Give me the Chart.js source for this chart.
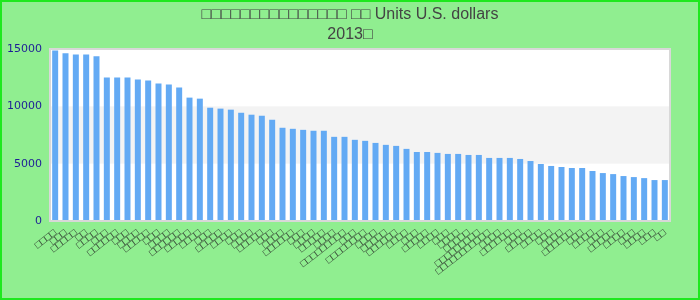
<html>
<head>
<title>2013 Units U.S. dollars</title>
<script src="https://cdn.jsdelivr.net/npm/chart.js"></script>
<style>
  body { margin: 0; padding: 0; }
  .frame {
    width: 700px;
    height: 300px;
    box-sizing: border-box;
    border: 2px solid #1ee81e;
    background-color: #90ee90;
  }
</style>
</head>
<body>
<div class="frame">
  <canvas id="chart" width="696" height="296"></canvas>
</div>
<script>
// chart data
const titleLines = ['□□□□□□□□□□□□□□□ □□ Units U.S. dollars', '2013□'];

const categories = [
  '□□□□', '□□□', '□□□□□', '□□', '□□□□', '□□□', '□□□□□□', '□□□', '□□□□', '□□□□□',
  '□□□', '□□□□', '□□□□□□', '□□□□□', '□□□□', '□□□', '□□□□□', '□□□□', '□□□', '□□□□',
  '□□□□□', '□□□', '□□□□', '□□□□□□', '□□□', '□□□□', '□□□□□', '□□□□', '□□□□□□□□□', '□□□',
  '□□□□□□□□', '□□□□', '□□□□□', '□□□□□□', '□□□□', '□□□', '□□□□□', '□□□□', '□□□', '□□□□',
  '□□□□□', '□□□□□□□□□', '□□□□□□□□□□□', '□□□□', '□□□□□□', '□□□', '□□□□□', '□□□□', '□□□', '□□□□',
  '□□□□□□', '□□□', '□□□□', '□□□', '□□□□□', '□□□□', '□□□', '□□□□', '□□□', '□□'
];

const values = [
  14880, 14620, 14530, 14530, 14360, 12520, 12520, 12520, 12340, 12250,
  11990, 11900, 11640, 10760, 10670, 9880, 9800, 9710, 9440, 9270,
  9180, 8830, 8130, 8040, 7950, 7870, 7870, 7340, 7340, 7080,
  6990, 6810, 6640, 6550, 6290, 6020, 6020, 5940, 5850, 5850,
  5760, 5760, 5500, 5500, 5500, 5410, 5230, 4970, 4800, 4710,
  4620, 4620, 4360, 4180, 4090, 3920, 3830, 3740, 3570, 3570
];

const yTicks = [0, 5000, 10000, 15000];
const bandRange = [5000, 10000];

// plot background, grey band and frame
const plotBackground = {
  id: 'plotBackground',
  beforeDatasetsDraw(chart) {
    const { ctx, chartArea: a, scales: { y } } = chart;
    ctx.save();
    ctx.fillStyle = '#ffffff';
    ctx.fillRect(a.left, a.top, a.right - a.left, a.bottom - a.top);
    const b1 = y.getPixelForValue(bandRange[1]);
    const b0 = y.getPixelForValue(bandRange[0]);
    ctx.fillStyle = '#f3f3f3';
    ctx.fillRect(a.left, b1, a.right - a.left, b0 - b1);
    ctx.restore();
  },
  afterDatasetsDraw(chart) {
    const { ctx, chartArea: a } = chart;
    ctx.save();
    ctx.strokeStyle = '#d8d8d8';
    ctx.lineWidth = 2;
    ctx.strokeRect(a.left, a.top, a.right - a.left, a.bottom - a.top);
    ctx.restore();
  }
};

const ctx = document.getElementById('chart').getContext('2d');
new Chart(ctx, {
  type: 'bar',
  data: {
    labels: categories,
    datasets: [{
      data: values,
      backgroundColor: '#63aaf4',
      barPercentage: 0.58,
      categoryPercentage: 1.0
    }]
  },
  options: {
    responsive: false,
    animation: false,
    layout: { padding: 0 },
    plugins: {
      legend: { display: false },
      tooltip: { enabled: false },
      title: {
        display: true,
        text: titleLines,
        color: '#444444',
        font: { family: 'Liberation Sans, Arial, sans-serif', size: 16, weight: 'normal', lineHeight: 1.25 },
        padding: { top: 3, bottom: 4 }
      }
    },
    scales: {
      x: {
        grid: { display: false, drawTicks: false },
        border: { display: false },
        ticks: {
          autoSkip: false,
          minRotation: 38,
          maxRotation: 38,
          padding: 6,
          color: '#222222',
          font: { family: 'Liberation Sans, Arial, sans-serif', size: 10 }
        },
        afterFit(scale) { scale.height = 77; }
      },
      y: {
        min: 0,
        max: 15000,
        grid: { display: false, drawTicks: false },
        border: { display: false },
        afterBuildTicks(scale) { scale.ticks = yTicks.map(v => ({ value: v })); },
        ticks: {
          padding: 8,
          color: '#1e1e96',
          font: { family: 'DejaVu Sans, sans-serif', size: 11 },
          callback: v => String(v)
        },
        afterFit(scale) { scale.width = 48; }
      },
      // empty right-hand gutter
      yRight: {
        position: 'right',
        grid: { display: false, drawTicks: false },
        border: { display: false },
        ticks: { display: false },
        afterFit(scale) { scale.width = 28; }
      }
    }
  },
  plugins: [plotBackground]
});
</script>
</body>
</html>
